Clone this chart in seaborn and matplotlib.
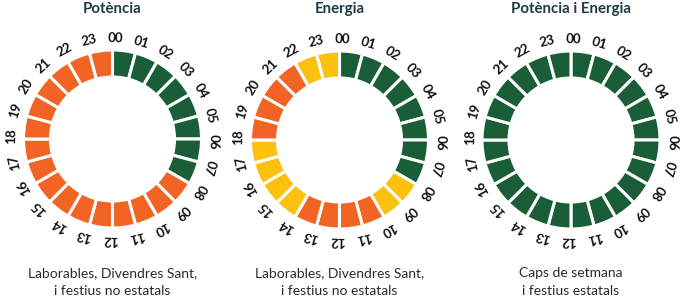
import matplotlib
matplotlib.use("Agg")
import matplotlib.pyplot as plt
import seaborn as sns
import numpy as np

sns.set_theme(style="white")
plt.rcParams['font.family'] = ['Lato', 'DejaVu Sans']

hours = [f"{h:02d}" for h in range(24)]
titles = ["Potència", "Energia", "Potència i Energia"]
captions = ["Laborables, Divendres Sant,\ni festius no estatals",
            "Laborables, Divendres Sant,\ni festius no estatals",
            "Caps de setmana\ni festius estatals"]
# period per hour: V = vall (green), L = llano (yellow), P = punta (orange)
potencia_periods = ["V"] * 8 + ["P"] * 16
energia_periods = (["V"] * 8 + ["L"] * 2 + ["P"] * 4 + ["L"] * 4 +
                   ["P"] * 4 + ["L"] * 2)
cap_setmana_periods = ["V"] * 24
hour_share = [1] * 24

palette = {"V": "#195e36", "L": "#fcc00f", "P": "#f26424"}
title_color = "#1b3c45"
text_color = "#2a2a2a"

W, H = 680, 306
fig = plt.figure(figsize=(W / 100, H / 100), dpi=100)

centers = [(112.5, 139), (339.5, 140), (571, 140)]
R_out, ring = 89, 27
half = 120

for (cx, cy), title, cap, periods in zip(
        centers, titles, captions,
        [potencia_periods, energia_periods, cap_setmana_periods]):
    ax = fig.add_axes([(cx - half) / W, (H - cy - half) / H,
                       2 * half / W, 2 * half / H])
    colors = [palette[p] for p in periods]
    ax.pie(hour_share, colors=colors, startangle=90, counterclock=False,
           radius=R_out,
           wedgeprops=dict(width=ring, edgecolor="white", linewidth=2.2))
    ax.set_xlim(-half, half)
    ax.set_ylim(-half, half)
    ax.set_aspect("equal")
    ax.axis("off")
    for i, lab in enumerate(hours):
        ang = np.deg2rad(i * 15 + 1.5)
        r = R_out + 12
        x, y = r * np.sin(ang), r * np.cos(ang)
        ax.text(x, y, lab, rotation=-(i * 15 + 1.5), rotation_mode="anchor",
                ha="center", va="center", fontsize=9.6, fontweight="bold",
                color="#111111")
    fig.text(cx / W, 1 - 9 / H, title, ha="center", va="center",
             fontsize=10.8, fontweight="bold", color=title_color)
    fig.text(cx / W, 1 - 282 / H, cap, ha="center", va="center",
             fontsize=10, color=text_color, linespacing=1.55)

fig.savefig("out.png", dpi=100, facecolor="white")
